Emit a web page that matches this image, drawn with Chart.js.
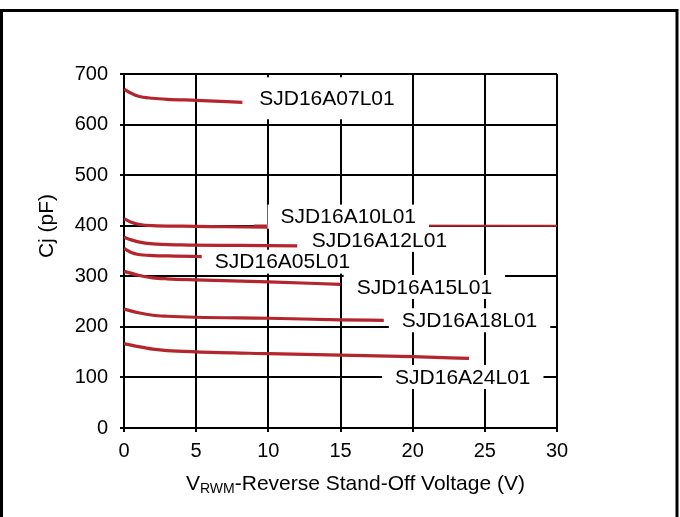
<!DOCTYPE html>
<html><head><meta charset="utf-8">
<script src="https://cdn.jsdelivr.net/npm/chart.js@4.4.1/dist/chart.umd.min.js"></script>
<style>html,body{margin:0;padding:0;background:#fff;}#wrap{width:680px;height:517px;position:relative;}</style>
</head><body><div id="wrap"><canvas id="c" width="680" height="517"></canvas></div>
<script>
// ---- data ----
const xTicks = [0, 5, 10, 15, 20, 25, 30];
const yTicks = [0, 100, 200, 300, 400, 500, 600, 700];
const seriesNames = ['SJD16A07L01','SJD16A10L01','SJD16A12L01','SJD16A05L01','SJD16A15L01','SJD16A18L01','SJD16A24L01'];
const vA07 = [0, 0.5, 1, 2, 3, 5, 8.2];
const cA07 = [670, 662, 656, 652, 650, 648, 644];
const vA10 = [0, 0.5, 1, 2, 4, 7, 10];
const cA10 = [414, 407, 403, 400, 399, 398, 397];
const vA12 = [0, 0.5, 1, 2, 4, 8, 12];
const cA12 = [377, 372, 368, 364, 362, 361, 360];
const vA05 = [0, 0.5, 1, 2, 3.5, 5.4];
const cA05 = [355, 347, 343, 341, 340, 339];
const vA15 = [0, 1, 2, 3, 5, 10, 15];
const cA15 = [310, 302, 297, 295, 293, 289, 284];
const vA18 = [0, 1, 2, 3, 5, 10, 15, 18];
const cA18 = [235, 228, 223, 221, 219, 217, 214, 213];
const vA24 = [0, 1, 2, 3, 5, 10, 15, 20, 23.9];
const cA24 = [167, 161, 156, 153, 150.5, 147, 144, 141, 137.5];
const vStray = [9, 30];
const cStray = [400.5, 400];
// label anchor points (left edge of text, vertical centre) in data units
const labelV = [9.37, 10.85, 13.0, 6.29, 16.12, 19.25, 18.78];
const labelC = [652, 418, 372, 329, 279, 213, 101];

const RED = '#b3262d';
function pts(xs, ys){ return xs.map((x,i)=>({x:x, y:ys[i]})); }
const curveX = [vA07, vA10, vA12, vA05, vA15, vA18, vA24];
const curveY = [cA07, cA10, cA12, cA05, cA15, cA18, cA24];
const datasets = curveX.map((xs,i)=>({
  label: seriesNames[i], data: pts(xs, curveY[i]), showLine: true,
  borderColor: RED, borderWidth: 3.2, pointRadius: 0, cubicInterpolationMode: 'monotone', fill: false
}));
datasets.push({label:'stray', data: pts(vStray, cStray), showLine:true, borderColor: RED, borderWidth: 2, pointRadius:0, fill:false});

const FONT = '"Liberation Sans", Arial, sans-serif';

const decor = {
  id: 'decor',
  afterDatasetsDraw(chart){
    const ctx = chart.ctx, xs = chart.scales.x, ys = chart.scales.y;
    ctx.save();
    ctx.font = '21px ' + FONT;
    ctx.textBaseline = 'middle';
    labelV.forEach((v,i)=>{
      const px = xs.getPixelForValue(v), py = ys.getPixelForValue(labelC[i]);
      const w = ctx.measureText(seriesNames[i]).width;
      const hh = i === 0 ? 21 : 12;
      ctx.fillStyle = '#fff';
      ctx.fillRect(px - 13, py - hh, w + 26, hh * 2);
      ctx.fillStyle = '#000';
      ctx.fillText(seriesNames[i], px, py + 1);
    });
    ctx.restore();
  },
  afterDraw(chart){
    const ctx = chart.ctx;
    ctx.save();
    // outer frame
    ctx.strokeStyle = '#000'; ctx.lineWidth = 3;
    ctx.strokeRect(1.5, 10.5, 675.5, 530);
    // y title
    ctx.fillStyle = '#000';
    ctx.font = '21px ' + FONT;
    ctx.textAlign = 'center'; ctx.textBaseline = 'middle';
    ctx.translate(47, 226); ctx.rotate(-Math.PI/2);
    ctx.fillText('Cj (pF)', 0, 0);
    ctx.restore();
    // x title with subscript
    ctx.save();
    ctx.fillStyle = '#000';
    ctx.textBaseline = 'alphabetic'; ctx.textAlign = 'left';
    let x = 186; const base = 490;
    ctx.font = '21px ' + FONT; ctx.fillText('V', x, base); x += ctx.measureText('V').width;
    ctx.font = '14px ' + FONT; ctx.fillText('RWM', x, base + 3); x += ctx.measureText('RWM').width;
    ctx.font = '21px ' + FONT; ctx.fillText('-Reverse Stand-Off Voltage (V)', x, base);
    ctx.restore();
  }
};

new Chart(document.getElementById('c'), {
  type: 'scatter',
  data: { datasets },
  options: {
    responsive: false, animation: false, devicePixelRatio: 1,
    layout: { padding: { left: 0, right: 123, top: 74, bottom: 0 } },
    plugins: { legend: { display: false }, tooltip: { enabled: false } },
    scales: {
      x: {
        type: 'linear', min: 0, max: 30,
        afterBuildTicks: s => { s.ticks = xTicks.map(v=>({value:v})); },
        afterFit: s => { s.height = 89; },
        grid: { color: '#000', lineWidth: 2, tickLength: 4, tickColor: '#000' },
        border: { color: '#000', width: 2 },
        ticks: { color: '#000', font: { family: FONT, size: 20 }, padding: 7, maxRotation: 0 }
      },
      y: {
        type: 'linear', min: 0, max: 700,
        afterBuildTicks: s => { s.ticks = yTicks.map(v=>({value:v})); },
        afterFit: s => { s.width = 124; },
        grid: { color: '#000', lineWidth: 2, tickLength: 4, tickColor: '#000' },
        border: { color: '#000', width: 2 },
        ticks: { color: '#000', font: { family: FONT, size: 20 }, padding: 12 }
      }
    }
  },
  plugins: [decor]
});
</script></body></html>
